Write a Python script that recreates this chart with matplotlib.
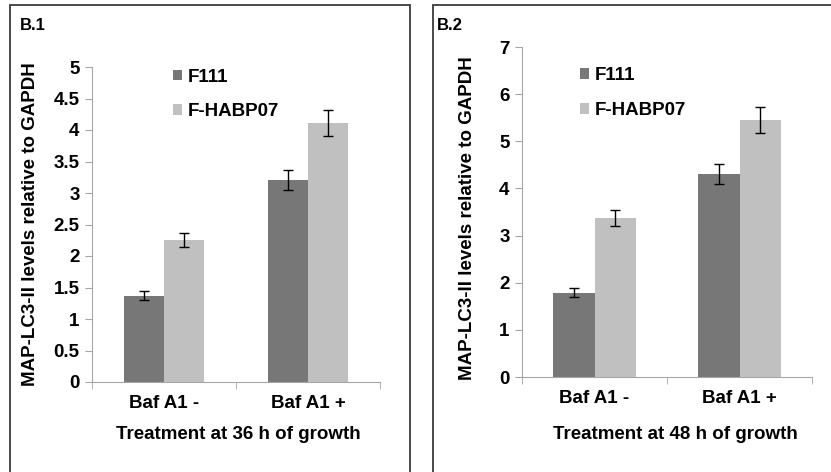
import matplotlib
matplotlib.use("Agg")
import matplotlib.pyplot as plt
from matplotlib.patches import Rectangle
import numpy as np

plt.rcParams['font.family'] = ['Liberation Sans', 'DejaVu Sans']
plt.rcParams['font.weight'] = 'bold'

categories = ["Baf A1 -", "Baf A1 +"]
series = ["F111", "F-HABP07"]

# B.1 - 36 h
b1_f111 = [1.37, 3.20]
b1_f111_err = [0.07, 0.16]
b1_habp = [2.25, 4.11]
b1_habp_err = [0.11, 0.21]

# B.2 - 48 h
b2_f111 = [1.79, 4.31]
b2_f111_err = [0.09, 0.21]
b2_habp = [3.37, 5.45]
b2_habp_err = [0.17, 0.27]

dark = '#777777'
light = '#c0c0c0'
W, H = 831, 472
FS = 13.5

fig = plt.figure(figsize=(W / 100, H / 100), dpi=100)


def px_axes(x0, y_top, x1, y_bot):
    return fig.add_axes([x0 / W, 1 - y_bot / H, (x1 - x0) / W, (y_bot - y_top) / H])


def draw_panel(ax, f111, f111_err, habp, habp_err, ymax, ystep, width, xlabel, leg_pos, ylab_pos, xlab_pos):
    x = np.arange(len(categories))
    ax.bar(x - width / 2, f111, width, color=dark, label=series[0])
    ax.bar(x + width / 2, habp, width, color=light, label=series[1])
    ax.errorbar(x - width / 2, f111, yerr=f111_err, fmt='none', ecolor='black', elinewidth=1, capsize=3.3, capthick=1)
    ax.errorbar(x + width / 2, habp, yerr=habp_err, fmt='none', ecolor='black', elinewidth=1, capsize=3.3, capthick=1)
    ax.set_xlim(-0.5, 1.5)
    ax.set_ylim(0, ymax)
    ticks = np.arange(0, ymax + 0.001, ystep)
    ax.set_yticks(ticks)
    ax.set_yticklabels([f"{v:g}" for v in ticks])
    ax.set_xticks(x)
    ax.set_xticklabels(categories)
    ax.set_xticks([-0.5, 0.5, 1.5], minor=True)
    ax.tick_params(axis='x', which='major', length=0, pad=9.5, labelsize=FS)
    ax.tick_params(axis='x', which='minor', length=5, color='#a6a6a6', direction='out')
    ax.tick_params(axis='y', length=5, color='#a6a6a6', direction='out', labelsize=FS, pad=4)
    for s in ['top', 'right']:
        ax.spines[s].set_visible(False)
    for s in ['left', 'bottom']:
        ax.spines[s].set_color('#a6a6a6')
    ax.set_ylabel("MAP-LC3-II levels relative to GAPDH", fontsize=FS, fontweight='bold')
    ax.yaxis.set_label_coords(*ylab_pos)
    ax.set_xlabel(xlabel, fontsize=FS, fontweight='bold')
    ax.xaxis.set_label_coords(*xlab_pos)
    ax.legend(loc='upper left', bbox_to_anchor=leg_pos, frameon=False, fontsize=FS,
              handlelength=0.5, handleheight=0.5, handletextpad=0.3, labelspacing=0.95,
              borderpad=0, borderaxespad=0)


ax1 = px_axes(92, 67, 380, 382)
draw_panel(ax1, b1_f111, b1_f111_err, b1_habp, b1_habp_err, 5, 0.5, 0.28,
           "Treatment at 36 h of growth", (0.28, 0.995), (-0.185, 0.5), (0.507, -0.14))

ax2 = px_axes(522, 47, 812, 377)
draw_panel(ax2, b2_f111, b2_f111_err, b2_habp, b2_habp_err, 7, 1, 0.285,
           "Treatment at 48 h of growth", (0.2, 0.938), (-0.157, 0.48), (0.53, -0.148))

# panel frames
for x0, x1 in [(10, 410), (433, 835)]:
    fig.patches.append(Rectangle((x0 / W, -0.1), (x1 - x0) / W, 1 - 5 / H + 0.1,
                                 transform=fig.transFigure, fill=False,
                                 edgecolor='#3a3a3a', linewidth=1.3))

fig.text(20 / W, 1 - 25 / H, "B.1", fontsize=12, fontweight='bold', va='center', ha='left')
fig.text(437 / W, 1 - 25 / H, "B.2", fontsize=12, fontweight='bold', va='center', ha='left')

fig.savefig("out.png", dpi=100)
